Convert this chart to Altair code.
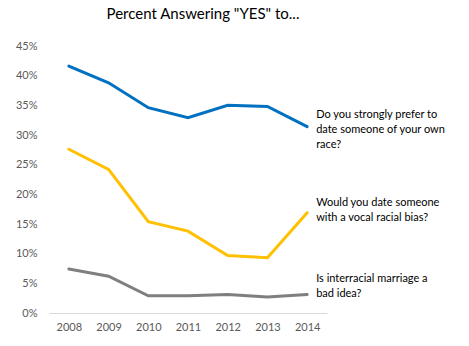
import altair as alt
import pandas as pd

years = ["2008", "2009", "2010", "2011", "2012", "2013", "2014"]
series_names = [
    "Do you strongly prefer to date someone of your own race?",
    "Would you date someone with a vocal racial bias?",
    "Is interracial marriage a bad idea?",
]
blue_vals = [41.6, 38.8, 34.6, 32.9, 35.0, 34.8, 31.4]
yellow_vals = [27.6, 24.2, 15.4, 13.8, 9.7, 9.3, 16.9]
gray_vals = [7.4, 6.2, 2.9, 2.9, 3.1, 2.7, 3.1]
colors = ["#0070C0", "#FFC000", "#7F7F7F"]

label_lines = [
    ["Do you strongly prefer to", "date someone of your own", "race?"],
    ["Would you date someone", "with a vocal racial bias?"],
    ["Is interracial marriage a", "bad idea?"],
]
label_y = [33.3, 18.5, 5.7]
y_ticks = [0, 5, 10, 15, 20, 25, 30, 35, 40, 45]

rows = []
for name, vals in zip(series_names, [blue_vals, yellow_vals, gray_vals]):
    for y, v in zip(years, vals):
        rows.append({"year": y, "series": name, "value": v / 100})
df = pd.DataFrame(rows)

lab = pd.DataFrame({
    "year": ["2014"] * 3,
    "series": series_names,
    "text": label_lines,
    "value": [v / 100 for v in label_y],
})

color_scale = alt.Scale(domain=series_names, range=colors)
y_scale = alt.Scale(domain=[0, 0.45], nice=False)
x_scale = alt.Scale(paddingInner=0, paddingOuter=0.5)
x_axis = alt.Axis(labelAngle=0, ticks=False, domainColor="#D9D9D9",
                  labelColor="#595959", labelFontSize=11, labelPadding=8,
                  labelFont="Lato", grid=False)
y_axis = alt.Axis(format=".0%", values=[t / 100 for t in y_ticks],
                  grid=False, ticks=False, domain=False, labelOverlap=False,
                  labelColor="#595959", labelFontSize=11, labelPadding=12,
                  labelFont="Lato")

x_enc = alt.X("year:N", sort=years, title=None, scale=x_scale, axis=x_axis)
y_enc = alt.Y("value:Q", title=None, scale=y_scale, axis=y_axis)

lines = alt.Chart(df).mark_line(strokeWidth=3, strokeCap="round").encode(
    x=x_enc,
    y=y_enc,
    color=alt.Color("series:N", scale=color_scale, legend=None),
)

labels = alt.Chart(lab).mark_text(align="left", baseline="middle", dx=9,
                                  font="Lato", fontSize=11, lineHeight=15,
                                  color="#000000").encode(
    x=x_enc,
    y=y_enc,
    text="text",
)

chart = alt.layer(lines, labels).properties(
    width=278, height=267,
    autosize=alt.AutoSizeParams(type="none"),
    padding={"left": 49, "top": 46, "right": 142, "bottom": 33},
    title=alt.TitleParams('Percent Answering "YES" to...', font="Lato", fontSize=15,
                          fontWeight="normal", color="#000000", anchor="middle",
                          dx=15, offset=18),
).configure_view(stroke=None)

chart.save("out.html", embed_options={"renderer": "svg", "actions": False})
